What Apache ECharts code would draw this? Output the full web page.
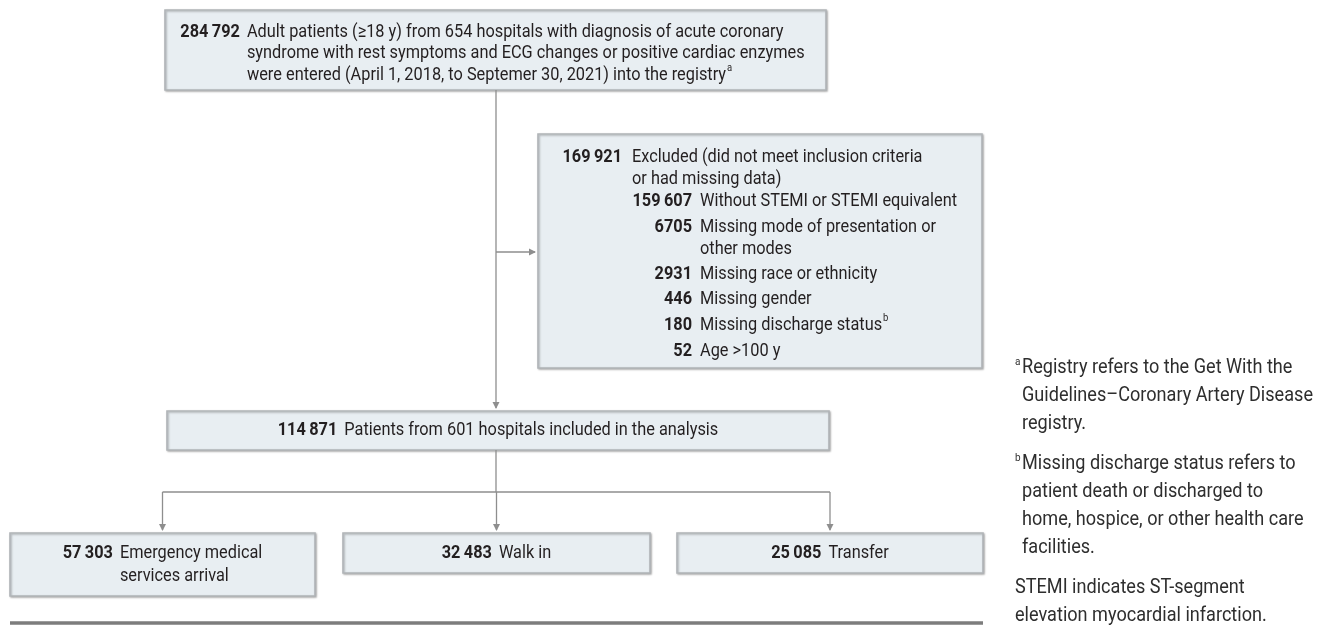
<!DOCTYPE html>
<html><head><meta charset="utf-8">
<script src="https://cdn.jsdelivr.net/npm/echarts@6/dist/echarts.min.js"></script>
<style>html,body{margin:0;padding:0;background:#fff}#c{width:1329px;height:626px}</style>
</head><body><div id="c"></div>
<script>
// ---------------- DATA ----------------
const enrolledCount = 284792;
const enrolledText = [
  'Adult patients (\u226518 y) from 654 hospitals with diagnosis of acute coronary',
  'syndrome with rest symptoms and ECG changes or positive cardiac enzymes',
  'were entered (April 1, 2018, to Septemer 30, 2021) into the registry'
];
const enrolledSup = 'a';
const excludedCount = 169921;
const excludedText = ['Excluded (did not meet inclusion criteria', 'or had missing data)'];
const exclusionCounts = [159607, 6705, 2931, 446, 180, 52];
const exclusionReasons = [
  ['Without STEMI or STEMI equivalent'],
  ['Missing mode of presentation or', 'other modes'],
  ['Missing race or ethnicity'],
  ['Missing gender'],
  ['Missing discharge status'],
  ['Age >100 y']
];
const exclusionSups = ['', '', '', '', 'b', ''];
const includedCount = 114871;
const includedText = ['Patients from 601 hospitals included in the analysis'];
const groupCounts = [57303, 32483, 25085];
const groupLabels = [['Emergency medical', 'services arrival'], ['Walk in'], ['Transfer']];
const footnoteMarks = ['a', 'b', ''];
const footnoteLines = [
  ['Registry refers to the Get With the', 'Guidelines\u2013Coronary Artery Disease', 'registry.'],
  ['Missing discharge status refers to', 'patient death or discharged to', 'home, hospice, or other health care', 'facilities.'],
  ['STEMI indicates ST-segment', 'elevation myocardial infarction.']
];

// ---------------- LAYOUT / STYLE ----------------
const FONT = 'Roboto, "Open Sans", sans-serif';
const BOX_FS = 19, NOTE_FS = 20;
const TEXT_COLOR = '#231f20', NOTE_COLOR = '#2e2e2e';
const LINE_COLOR = '#8e8e8e';
const BOX_FILL = '#e8eef2', BOX_STROKE = '#b1b5b8';
const L = {
  top: { x: 165, y: 10, w: 661, h: 80, lineY: [32, 53, 75] },
  excl: { x: 538, y: 134, w: 444, h: 234, totRight: 622, totTextX: 632, totY: [157, 179],
          numRight: 692, textX: 700, rowY: [[201], [227, 249], [274], [299], [325], [351]] },
  incl: { x: 167, y: 411, w: 662, h: 39 },
  groups: [{ x: 10, w: 305, h: 63 }, { x: 343, w: 307, h: 40 }, { x: 677, w: 306, h: 40 }],
  groupTop: 533, groupLineY: 553, lineGap: 23,
  spineX: 496, branchY: 492, exclArrowY: 252,
  rule: { x1: 10, x2: 983, y: 623 },
  note: { markX: 1015, textX: 1022, lineH: 28, paraGap: 12, y0: 368 },
  gap: 7
};

const cv = document.createElement('canvas').getContext('2d');
function measure(t, size, weight) {
  cv.font = (weight || 'normal') + ' ' + size + 'px ' + FONT;
  return cv.measureText(t).width;
}
// condense factors so the system fonts occupy the same widths as the original typeface
const SX = 257 / measure('Without STEMI or STEMI equivalent', BOX_FS);
const NSX = 291 / measure('Guidelines\u2013Coronary Artery Disease', NOTE_FS);

function fmt(n) {
  const s = String(n);
  return n >= 10000 ? s.slice(0, s.length - 3) + '\u2009' + s.slice(-3) : s;
}

const els = [];
function box(x, y, w, h) {
  els.push({ type: 'rect', shape: { x, y, width: w, height: h }, z: 1,
    style: { fill: BOX_FILL, stroke: BOX_STROKE, lineWidth: 1.6,
      shadowBlur: 2, shadowColor: 'rgba(0,0,0,0.28)', shadowOffsetX: 1, shadowOffsetY: 1 } });
}
function text(t, x, y, opts) {
  opts = opts || {};
  const size = opts.size || BOX_FS;
  els.push({ type: 'text', x, y, scaleX: opts.sx || SX, z: 5,
    style: { text: t, x: 0, y: 0, fill: opts.color || TEXT_COLOR,
      fontSize: size, fontFamily: FONT, fontWeight: opts.weight || 'normal',
      align: opts.align || 'left', verticalAlign: 'middle',
      textAlign: opts.align || 'left', textVerticalAlign: 'middle' } });
  return measure(t, size, opts.weight) * (opts.sx || SX);
}
function sup(t, x, y, sx, color) {
  text(t, x + 1, y - 7, { size: 11, sx: sx || SX, color });
}
function line(pts) {
  els.push({ type: 'polyline', shape: { points: pts }, z: 2,
    style: { stroke: LINE_COLOR, lineWidth: 1.3, fill: null } });
}
function arrowDown(x, y) {
  els.push({ type: 'polygon', z: 3, shape: { points: [[x - 3.5, y - 7], [x + 3.5, y - 7], [x, y]] },
    style: { fill: LINE_COLOR } });
}
function arrowRight(x, y) {
  els.push({ type: 'polygon', z: 3, shape: { points: [[x - 7, y - 3.5], [x - 7, y + 3.5], [x, y]] },
    style: { fill: LINE_COLOR } });
}
// centered block: bold number + text lines
function centeredEntry(count, lines, cx, y0) {
  const num = fmt(count);
  const nw = measure(num, BOX_FS, 'bold') * SX;
  const tw = Math.max.apply(null, lines.map(s => measure(s, BOX_FS) * SX));
  const left = cx - (nw + L.gap + tw) / 2;
  text(num, left + nw, y0, { weight: 'bold', align: 'right' });
  lines.forEach((s, i) => text(s, left + nw + L.gap, y0 + i * L.lineGap));
}

// ----- top box -----
const T = L.top;
box(T.x, T.y, T.w, T.h);
{
  const num = fmt(enrolledCount);
  const nw = measure(num, BOX_FS, 'bold') * SX;
  const tw = Math.max.apply(null, enrolledText.map(s => measure(s, BOX_FS) * SX));
  const left = T.x + T.w / 2 - (nw + L.gap + tw) / 2 - 3;
  text(num, left + nw, T.lineY[0], { weight: 'bold', align: 'right' });
  enrolledText.forEach((s, i) => {
    const w = text(s, left + nw + L.gap, T.lineY[i]);
    if (i === enrolledText.length - 1) sup(enrolledSup, left + nw + L.gap + w, T.lineY[i]);
  });
}

// ----- exclusion box -----
const E = L.excl;
box(E.x, E.y, E.w, E.h);
text(fmt(excludedCount), E.totRight, E.totY[0], { weight: 'bold', align: 'right' });
excludedText.forEach((s, i) => text(s, E.totTextX, E.totY[i]));
exclusionCounts.forEach((c, i) => {
  text(fmt(c), E.numRight, E.rowY[i][0], { weight: 'bold', align: 'right' });
  exclusionReasons[i].forEach((s, j) => {
    const w = text(s, E.textX, E.rowY[i][j]);
    if (exclusionSups[i] && j === exclusionReasons[i].length - 1) sup(exclusionSups[i], E.textX + w, E.rowY[i][j]);
  });
});

// ----- included box -----
const I = L.incl;
box(I.x, I.y, I.w, I.h);
centeredEntry(includedCount, includedText, I.x + I.w / 2, I.y + I.h / 2);

// ----- group boxes -----
L.groups.forEach((g, i) => {
  box(g.x, L.groupTop, g.w, g.h);
  centeredEntry(groupCounts[i], groupLabels[i], g.x + g.w / 2, L.groupLineY);
});

// ----- connectors -----
const sx = L.spineX;
line([[sx, T.y + T.h], [sx, I.y - 3]]);
arrowDown(sx, I.y - 2);
line([[sx, L.exclArrowY], [E.x - 3, L.exclArrowY]]);
arrowRight(E.x - 2, L.exclArrowY);
line([[sx, I.y + I.h], [sx, L.branchY]]);
const cxs = L.groups.map(g => g.x + g.w / 2);
line([[cxs[0], L.branchY], [cxs[2], L.branchY]]);
cxs.forEach(cx => { line([[cx, L.branchY], [cx, L.groupTop - 3]]); arrowDown(cx, L.groupTop - 2); });

// ----- bottom rule -----
els.push({ type: 'line', z: 2, shape: { x1: L.rule.x1, y1: L.rule.y, x2: L.rule.x2, y2: L.rule.y },
  style: { stroke: '#7d7d7d', lineWidth: 3.5 } });

// ----- footnotes -----
{
  const N = L.note;
  let y = N.y0;
  footnoteLines.forEach((para, p) => {
    para.forEach((s, j) => {
      if (j === 0 && footnoteMarks[p]) text(footnoteMarks[p], N.markX, y - 6, { size: 11, sx: NSX, color: NOTE_COLOR });
      const x = footnoteMarks[p] ? N.textX : N.markX;
      text(s, x, y, { size: NOTE_FS, sx: NSX, color: NOTE_COLOR });
      y += N.lineH;
    });
    y += N.paraGap;
  });
}

const chart = echarts.init(document.getElementById('c'), null, { renderer: 'canvas' });
chart.setOption({ animation: false, backgroundColor: '#ffffff', graphic: { elements: els } });
</script>
</body></html>
